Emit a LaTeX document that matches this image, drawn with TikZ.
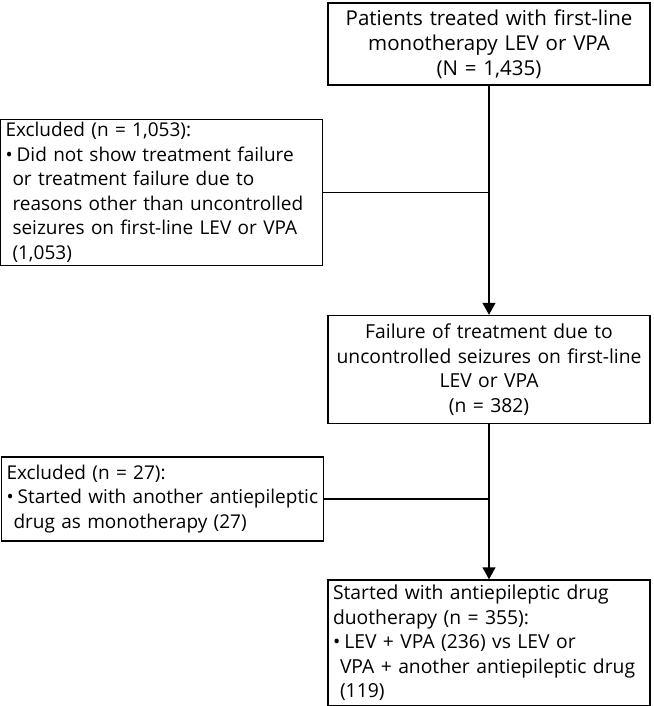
\documentclass[tikz,border=0pt]{standalone}
\usepackage{fontspec}
\setmainfont{Open Sans}
\usetikzlibrary{arrows.meta,positioning}

\begin{document}
\begin{tikzpicture}[
  x=1pt, y=1pt,
  box/.style={rectangle, draw=black, line width=1.5pt, inner xsep=5pt, inner ysep=3pt,
              font=\fontsize{19.3}{24.5}\selectfont, text width=312pt, align=center},
  topbox/.style={box, font=\fontsize{20.5}{25}\selectfont},
  exbox/.style={box, align=left, font=\fontsize{19}{24.5}\selectfont},
  arr/.style={-{Triangle[length=12pt,width=13pt]}, line width=1.5pt},
  line/.style={line width=1.5pt}
]
\useasboundingbox (0,0) rectangle (653,-706);
% main flow
\node[topbox, minimum height=82pt] (pat) at (489,-44)
  {Patients treated with first-line\\ monotherapy LEV or VPA\\ (N = 1,435)};
\node[box, minimum height=108pt, below=229pt of pat] (fail)
  {Failure of treatment due to\\ uncontrolled seizures on first-line\\ LEV or VPA\\ (n = 382)};
\node[box, align=left, minimum height=126pt, below=155pt of fail] (duo)
  {Started with antiepileptic drug\\ duotherapy (n = 355):\\
   •\hspace{4pt}LEV + VPA (236) vs LEV or\\
   \hspace*{7pt}VPA + another antiepileptic drug\\
   \hspace*{7pt}(119)};
% exclusions
\node[exbox, minimum height=145pt, below left=33pt and 4pt of pat.south west] (ex1)
  {Excluded (n = 1,053):\\
   •\hspace{4pt}Did not show treatment failure\\
   \hspace*{7pt}or treatment failure due to\\
   \hspace*{7pt}reasons other than uncontrolled\\
   \hspace*{7pt}seizures on first-line LEV or VPA\\
   \hspace*{7pt}(1,053)};
\node[exbox, minimum height=84pt, below left=32pt and 3pt of fail.south west] (ex2)
  {Excluded (n = 27):\\
   •\hspace{4pt}Started with another antiepileptic\\
   \hspace*{7pt}drug as monotherapy (27)};
\draw[arr] (pat) -- (fail);
\draw[arr] (fail) -- (duo);
\draw[line] (ex1.east) -- (ex1.east -| pat.south);
\draw[line] (ex2.east) -- (ex2.east -| fail.south);
\end{tikzpicture}
\end{document}
